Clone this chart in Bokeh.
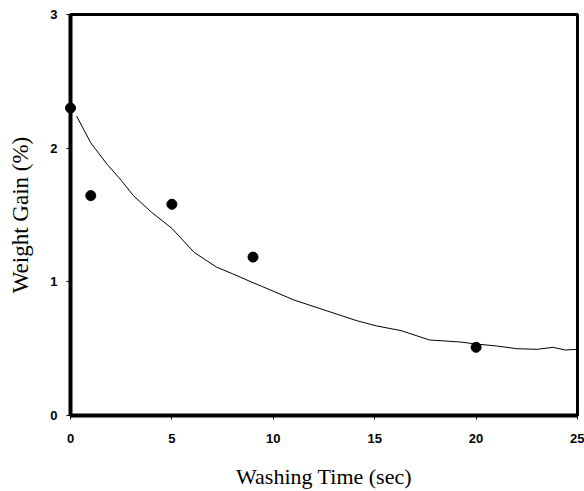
from bokeh.plotting import figure
from bokeh.models import Range1d, FixedTicker
from bokeh.embed import file_html
from bokeh.resources import INLINE

# Measured data points
wash_time = [0, 1, 5, 9, 20]
weight_gain = [2.30, 1.645, 1.58, 1.185, 0.51]

# Fitted curve
curve_t = [0.3, 1.0, 1.8, 2.5, 3.1, 4.0, 5.0, 6.1, 7.2, 8.0, 8.9, 10.0, 11.0, 12.6, 14.1,
           15.1, 16.3, 17.7, 19.2, 20.0, 21.0, 22.0, 23.0, 23.8, 24.4, 25.0]
curve_v = [2.24, 2.04, 1.88, 1.76, 1.645, 1.52, 1.40, 1.22, 1.11, 1.06, 1.00, 0.93, 0.865, 0.785, 0.71,
           0.67, 0.635, 0.565, 0.55, 0.535, 0.52, 0.50, 0.495, 0.51, 0.49, 0.495]

x_ticks = [0, 5, 10, 15, 20, 25]
y_ticks = [0, 1, 2, 3]

p = figure(width=584, height=491, output_backend="svg", toolbar_location=None,
           x_range=Range1d(0, 25), y_range=Range1d(0, 3),
           min_border_left=70, min_border_right=7, min_border_top=14, min_border_bottom=76)
p.background_fill_color = "white"
p.border_fill_color = "white"
p.grid.visible = False
p.outline_line_color = "black"
p.outline_line_width = 3

p.line(curve_t, curve_v, line_color="black", line_width=1)
pts = p.scatter(wash_time, weight_gain, size=10, color="black", level="overlay")

for ax in (p.xaxis[0], p.yaxis[0]):
    ax.axis_line_width = 4
    ax.axis_line_color = "black"
    ax.major_tick_line_color = "black"
    ax.major_tick_line_width = 1
    ax.major_tick_out = 4
    ax.major_tick_in = 0
    ax.minor_tick_line_color = None
    ax.major_label_text_font = "Liberation Sans"
    ax.major_label_text_font_style = "bold"
    ax.major_label_text_font_size = "13px"
    ax.major_label_text_color = "black"
    ax.axis_label_text_font = "Liberation Serif"
    ax.axis_label_text_font_style = "normal"
    ax.axis_label_text_color = "black"

p.xaxis.axis_label_text_font_size = "22px"
p.yaxis.axis_label_text_font_size = "23px"
p.xaxis.ticker = FixedTicker(ticks=x_ticks)
p.yaxis.ticker = FixedTicker(ticks=y_ticks)
p.xaxis.axis_label = "Washing Time (sec)"
p.yaxis.axis_label = "Weight Gain (%)"
p.xaxis.major_label_standoff = 14
p.yaxis.major_label_standoff = 9
p.xaxis.axis_label_standoff = 18
p.yaxis.axis_label_standoff = 14

open("out.html", "w").write(file_html(p, INLINE))
